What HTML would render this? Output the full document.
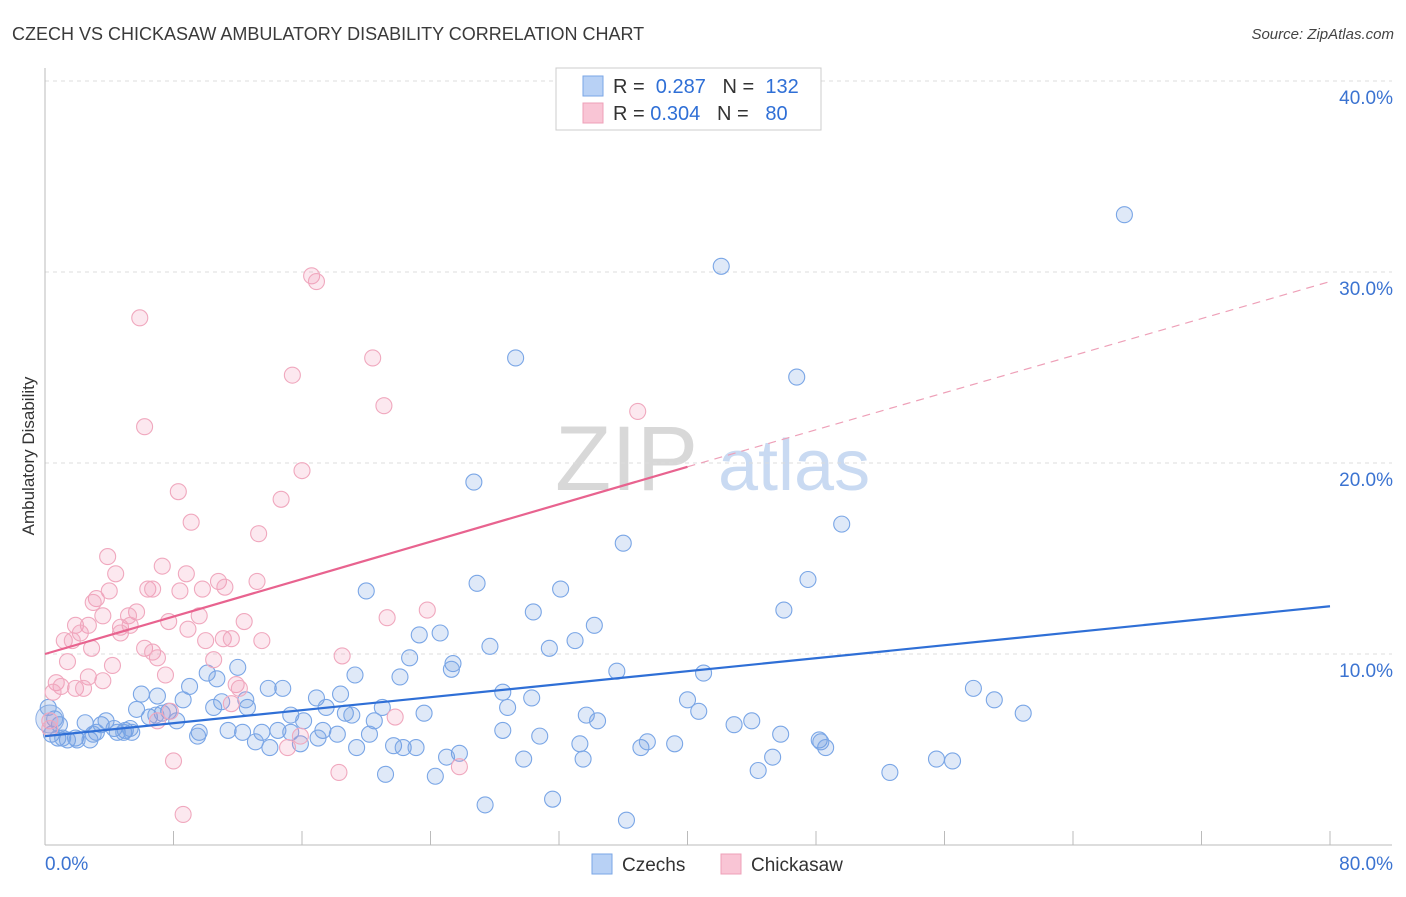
<!DOCTYPE html>
<html><head><meta charset="utf-8"><style>
body{margin:0;background:#fff;font-family:"Liberation Sans",sans-serif;}
svg text{font-family:"Liberation Sans",sans-serif;}
</style></head><body>
<svg id="chart" width="1406" height="892" xmlns="http://www.w3.org/2000/svg">
<text x="12" y="40" font-size="18" fill="#3a3a3a">CZECH VS CHICKASAW AMBULATORY DISABILITY CORRELATION CHART</text>
<text x="1394" y="39" font-size="15" fill="#444" text-anchor="end" font-style="italic">Source: ZipAtlas.com</text>
<text transform="translate(34,456) rotate(-90)" font-size="17" fill="#333" text-anchor="middle">Ambulatory Disability</text>
<g>
<text x="555" y="490" font-size="92" fill="#d8d8d8" font-family="Liberation Serif,serif">ZIP</text>
<text x="718" y="490" font-size="72" fill="#c9daf2">atlas</text>
</g>
<g id="grid"></g>
<g id="axes"></g>
<g id="pts"></g>
<g id="trend"></g>
<g>
<rect x="556" y="68" width="265" height="62" fill="#fff" stroke="#ccc"/>
<rect x="583" y="76" width="20" height="20" fill="#b8d1f5" stroke="#7aa6e6"/>
<rect x="583" y="103" width="20" height="20" fill="#f9c5d5" stroke="#eea0b8"/>
<text x="613" y="93" font-size="20" fill="#333">R = <tspan fill="#2f6fd6">&#160;0.287</tspan>&#160;&#160;&#160;N = <tspan fill="#2f6fd6">&#160;132</tspan></text>
<text x="613" y="120" font-size="20" fill="#333">R = <tspan fill="#2f6fd6">0.304</tspan>&#160;&#160;&#160;N = <tspan fill="#2f6fd6">&#160;&#160;80</tspan></text>
</g>
<g>
<rect x="592" y="854" width="20" height="20" fill="#b8d1f5" stroke="#7aa6e6"/>
<text x="622" y="871" font-size="19" fill="#333">Czechs</text>
<rect x="721" y="854" width="20" height="20" fill="#f9c5d5" stroke="#eea0b8"/>
<text x="751" y="871" font-size="19" fill="#333">Chickasaw</text>
</g>
</svg>
<script>
const yTicks=[10,20,30,40];
const yTickLabels=["10.0%","20.0%","30.0%","40.0%"];
const xTickVals=[0,8,16,24,32,40,48,56,64,72,80];
const czechX=[67.2,42.1,29.3,46.8,26.7,49.6,36.0,47.5,26.9,32.1,20.0,30.4,46.0,34.2,23.3,24.6,33.0,27.7,31.4,22.7,25.4,25.3,12.0,10.1,19.3,22.1,35.6,41.0,9.0,10.7,13.9,14.8,57.8,59.1,60.9,6.0,7.0,8.6,16.9,18.4,28.5,30.3,40.0,40.7,5.7,7.7,11.0,12.6,12.5,10.5,6.5,8.2,15.3,16.1,17.5,18.7,19.1,20.5,21.0,23.6,28.8,33.7,34.4,44.0,42.9,2.5,3.5,3.8,4.3,5.0,5.3,9.6,11.4,12.3,13.5,14.5,15.3,17.3,18.2,20.2,28.5,30.8,45.8,48.2,48.3,48.6,0.9,0.4,0.8,1.4,1.9,2.8,0.6,0.2,3.2,4.5,4.9,5.4,9.5,13.1,14.0,15.9,19.4,21.7,22.3,23.1,25.8,25.0,33.3,33.5,37.1,37.5,39.2,29.8,45.3,44.4,52.6,55.5,56.5,21.2,24.3,27.4,31.6,36.2,7.3,3.0,1.1,2.0,6.9,17.0];
const czechY=[33.0,30.3,25.5,24.5,19.0,16.8,15.8,13.9,13.7,13.4,13.3,12.2,12.3,11.5,11.0,11.1,10.7,10.4,10.3,9.8,9.5,9.2,9.3,9.0,8.9,8.8,9.1,9.0,8.3,8.7,8.2,8.2,8.2,7.6,6.9,7.9,7.8,7.6,7.7,7.9,8.0,7.7,7.6,7.0,7.1,7.0,7.5,7.2,7.6,7.2,6.7,6.5,6.8,6.5,7.2,6.9,6.8,6.5,7.2,6.9,7.2,6.8,6.5,6.5,6.3,6.4,6.3,6.5,6.1,6.0,6.1,5.9,6.0,5.9,5.9,6.0,5.9,6.0,5.8,5.8,6.0,5.7,5.8,5.5,5.4,5.1,6.3,5.8,5.6,5.5,5.6,5.5,6.6,7.2,5.9,5.9,5.9,5.9,5.7,5.4,5.1,5.3,5.1,5.2,5.1,5.1,4.8,4.6,5.3,4.5,5.1,5.4,5.3,4.5,4.6,3.9,3.8,4.5,4.4,3.7,3.6,2.1,2.4,1.3,6.9,5.8,5.6,5.5,6.8,5.6];
const chickX=[16.6,16.9,5.9,20.4,15.4,21.1,36.9,6.2,16.0,8.3,14.7,9.1,13.3,3.9,7.3,4.4,8.8,13.2,10.8,11.2,6.4,6.7,8.4,9.8,4.0,3.2,3.0,23.8,5.7,5.2,9.6,21.3,3.6,7.7,12.4,1.9,2.7,4.7,5.3,2.2,4.7,8.9,1.2,1.7,10.0,11.1,11.6,13.5,2.9,6.2,6.7,7.0,18.5,1.4,10.5,4.2,7.5,2.7,3.6,0.7,1.0,1.9,2.4,11.9,12.1,0.5,11.6,7.8,7.0,21.8,0.3,0.3,15.9,15.1,25.8,8.0,18.3,8.6];
const chickY=[29.8,29.5,27.6,25.5,24.6,23.0,22.7,21.9,19.6,18.5,18.1,16.9,16.3,15.1,14.6,14.2,14.2,13.8,13.8,13.5,13.4,13.4,13.3,13.4,13.3,12.9,12.7,12.3,12.2,12.0,12.0,11.9,12.0,11.7,11.7,11.5,11.5,11.4,11.5,11.1,11.1,11.3,10.7,10.7,10.7,10.8,10.8,10.7,10.3,10.3,10.1,9.8,9.9,9.6,9.7,9.4,8.9,8.8,8.6,8.5,8.3,8.2,8.2,8.4,8.2,8.0,7.4,7.0,6.5,6.7,6.5,6.1,5.7,5.1,4.1,4.4,3.8,1.6];
const czechTrend=[[0,5.7],[80,12.5]];
const chickTrend=[[0,10.0],[40,19.8],[80,29.5]];

const X0=45,X1=1330,Y0=845,PX=(1330-45)/80,PY=19.1;
const sx=v=>X0+v*PX, sy=v=>Y0-v*PY;
const NS="http://www.w3.org/2000/svg";
function mk(tag,attrs,parent){const e=document.createElementNS(NS,tag);for(const k in attrs)e.setAttribute(k,attrs[k]);parent.appendChild(e);return e;}
const grid=document.getElementById('grid'),axes=document.getElementById('axes'),pts=document.getElementById('pts'),tr=document.getElementById('trend');
yTicks.forEach((t,i)=>{
  const l=mk('line',{x1:45,x2:1392,y1:sy(t),y2:sy(t),stroke:'#dcdcdc','stroke-dasharray':'4,4'},grid);
  
  
  const tx=mk('text',{x:1393,y:sy(t)+23,'font-size':19,fill:'#3b73d1','text-anchor':'end'},axes);
  tx.textContent=yTickLabels[i];
  
  
});
let a=mk('line',{x1:45,x2:45,y1:68,y2:845,stroke:'#bbb'},axes);


a=mk('line',{x1:45,x2:1392,y1:845,y2:845,stroke:'#bbb'},axes);


xTickVals.forEach(v=>{
  const t=mk('line',{x1:sx(v),x2:sx(v),y1:831,y2:845,stroke:'#bbb'},axes);
  
  
});
let xl=mk('text',{x:45,y:870,'font-size':19,fill:'#3b73d1'},axes);xl.textContent='0.0%';


xl=mk('text',{x:1393,y:870,'font-size':19,fill:'#3b73d1','text-anchor':'end'},axes);xl.textContent='80.0%';


let big=mk('circle',{cx:sx(0.3),cy:sy(6.6),r:14,fill:'rgba(110,155,225,0.25)',stroke:'#8fb1e6'},pts);


czechX.forEach((x,i)=>{
  const c=mk('circle',{cx:sx(x),cy:sy(czechY[i]),r:8,fill:'rgba(110,155,225,0.22)',stroke:'#7aa6e6','stroke-width':1.1},pts);
  
  
});
chickX.forEach((x,i)=>{
  const c=mk('circle',{cx:sx(x),cy:sy(chickY[i]),r:8,fill:'rgba(242,150,180,0.22)',stroke:'#f0a8be','stroke-width':1.1},pts);
  
  
});
let l=mk('line',{x1:sx(czechTrend[0][0]),y1:sy(czechTrend[0][1]),x2:sx(czechTrend[1][0]),y2:sy(czechTrend[1][1]),stroke:'#2f6fd6','stroke-width':2.2},tr);


l=mk('line',{x1:sx(chickTrend[0][0]),y1:sy(chickTrend[0][1]),x2:sx(chickTrend[1][0]),y2:sy(chickTrend[1][1]),stroke:'#e8638f','stroke-width':2.2},tr);


l=mk('line',{x1:sx(chickTrend[1][0]),y1:sy(chickTrend[1][1]),x2:sx(chickTrend[2][0]),y2:sy(chickTrend[2][1]),stroke:'#eea0b8','stroke-width':1.2,'stroke-dasharray':'8,6'},tr);


</script>
</body></html>
